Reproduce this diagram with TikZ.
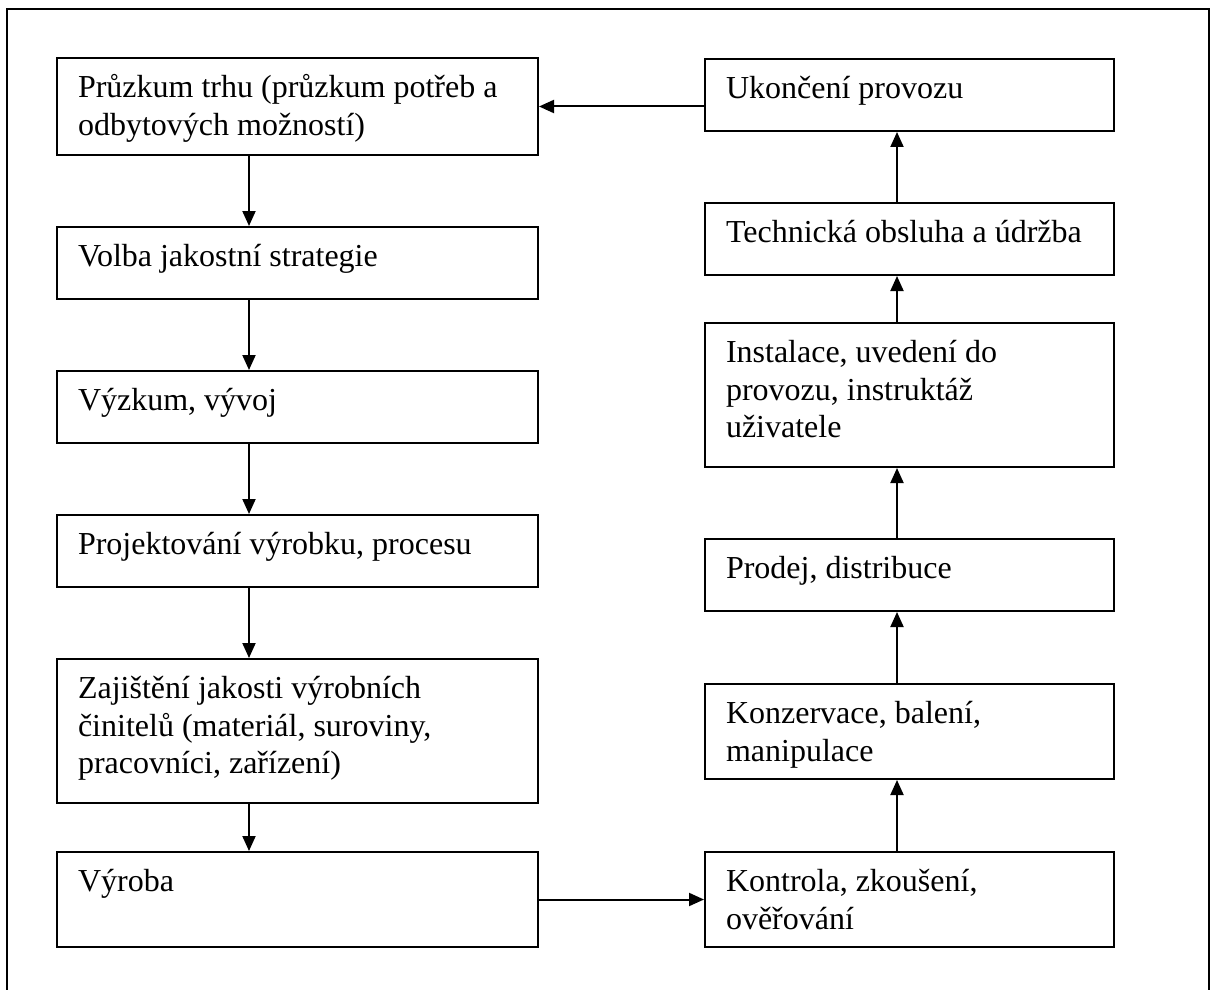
\documentclass[tikz,border=0pt]{standalone}
\usepackage{fontspec}
\setmainfont{Liberation Serif}
\usetikzlibrary{arrows.meta}

\newcommand{\stagetext}[3]{\parbox[c][#2][t]{#1}{\raggedright\rule{0pt}{19.75pt}#3}}

\begin{document}
\begin{tikzpicture}[x=0.5pt, y=-0.5pt, line width=1pt,
    every node/.style={font=\fontsize{16}{18.75}\selectfont},
    stage/.style={draw, anchor=north west, inner xsep=10.5pt, inner ysep=0pt},
    flow/.style={-{Triangle[length=7.5pt, width=6.5pt]}}]
  \useasboundingbox (0,0) rectangle (1216,990);
  \draw (7,990) -- (7,9) -- (1209,9) -- (1209,990);

  \coordinate (colL) at (249,0);
  \coordinate (colR) at (897,0);

  \node[stage] (pruzkum) at (56,57) {\stagetext{219.5pt}{48.5pt}{Průzkum trhu (průzkum potřeb a\\ odbytových možností)}};
  \node[stage] (volba) at (56,226) {\stagetext{219.5pt}{36pt}{Volba jakostní strategie}};
  \node[stage] (vyzkum) at (56,370) {\stagetext{219.5pt}{36pt}{Výzkum, vývoj}};
  \node[stage] (projekt) at (56,514) {\stagetext{219.5pt}{36pt}{Projektování výrobku, procesu}};
  \node[stage] (zajisteni) at (56,658) {\stagetext{219.5pt}{72pt}{Zajištění jakosti výrobních\\ činitelů (materiál, suroviny,\\ pracovníci, zařízení)}};
  \node[stage] (vyroba) at (56,851) {\stagetext{219.5pt}{47.5pt}{Výroba}};

  \node[stage] (ukonceni) at (704,58) {\stagetext{183.5pt}{36pt}{Ukončení provozu}};
  \node[stage] (udrzba) at (704,202) {\stagetext{183.5pt}{36pt}{Technická obsluha a údržba}};
  \node[stage] (instalace) at (704,322) {\stagetext{183.5pt}{72pt}{Instalace, uvedení do\\ provozu, instruktáž\\ uživatele}};
  \node[stage] (prodej) at (704,538) {\stagetext{183.5pt}{36pt}{Prodej, distribuce}};
  \node[stage] (konzervace) at (704,683) {\stagetext{183.5pt}{47.5pt}{Konzervace, balení,\\ manipulace}};
  \node[stage] (kontrola) at (704,851) {\stagetext{183.5pt}{47.5pt}{Kontrola, zkoušení,\\ ověřování}};

  \draw[flow] (pruzkum.south -| colL) -- (volba.north -| colL);
  \draw[flow] (volba.south -| colL) -- (vyzkum.north -| colL);
  \draw[flow] (vyzkum.south -| colL) -- (projekt.north -| colL);
  \draw[flow] (projekt.south -| colL) -- (zajisteni.north -| colL);
  \draw[flow] (zajisteni.south -| colL) -- (vyroba.north -| colL);
  \draw[flow] (vyroba.east) -- (kontrola.west);
  \draw[flow] (kontrola.north -| colR) -- (konzervace.south -| colR);
  \draw[flow] (konzervace.north -| colR) -- (prodej.south -| colR);
  \draw[flow] (prodej.north -| colR) -- (instalace.south -| colR);
  \draw[flow] (instalace.north -| colR) -- (udrzba.south -| colR);
  \draw[flow] (udrzba.north -| colR) -- (ukonceni.south -| colR);
  \draw[flow] (ukonceni.west |- pruzkum.east) -- (pruzkum.east);
\end{tikzpicture}
\end{document}
